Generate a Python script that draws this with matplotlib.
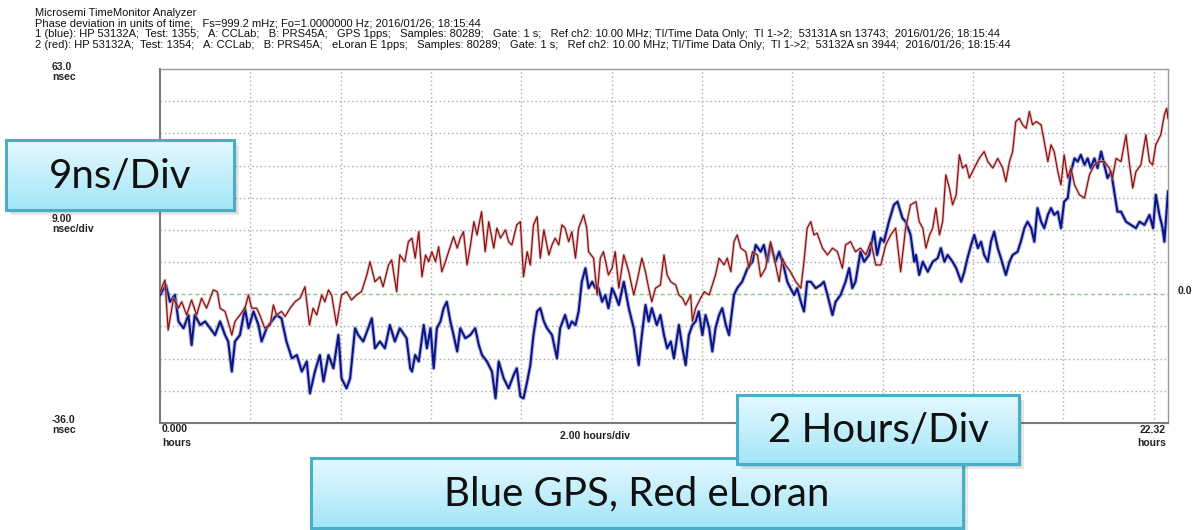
import numpy as np
import matplotlib
matplotlib.use('Agg')
import matplotlib.pyplot as plt
from matplotlib.patches import Rectangle

# ---------------- data ----------------
header_lines = [
    "Microsemi TimeMonitor Analyzer",
    "Phase deviation in units of time;   Fs=999.2 mHz; Fo=1.0000000 Hz; 2016/01/26; 18:15:44",
    "1 (blue): HP 53132A;  Test: 1355;   A: CCLab;   B: PRS45A;   GPS 1pps;   Samples: 80289;   Gate: 1 s;   Ref ch2: 10.00 MHz; TI/Time Data Only;  TI 1->2;  53131A sn 13743;  2016/01/26; 18:15:44",
    "2 (red): HP 53132A;  Test: 1354;   A: CCLab;   B: PRS45A;   eLoran E 1pps;   Samples: 80289;   Gate: 1 s;   Ref ch2: 10.00 MHz; TI/Time Data Only;  TI 1->2;  53132A sn 3944;  2016/01/26; 18:15:44",
]

red_t = [0.00, 0.11, 0.18, 0.30, 0.41, 0.48, 0.59, 0.70, 0.81, 0.92, 1.03, 1.18, 1.27, 1.33, 1.44, 1.55, 1.59, 1.66, 1.77, 1.88,
         1.96, 2.03, 2.14, 2.21, 2.32, 2.44, 2.51, 2.58, 2.69, 2.77, 2.88, 2.99, 3.10, 3.21, 3.31, 3.39, 3.47, 3.58, 3.65, 3.73,
         3.80, 3.91, 4.02, 4.13, 4.24, 4.35, 4.46, 4.58, 4.65, 4.76, 4.87, 4.94, 5.06, 5.13, 5.24, 5.31, 5.42, 5.50, 5.58,
         5.65, 5.73, 5.80, 5.88, 5.95, 6.02, 6.10, 6.17, 6.24, 6.32, 6.39, 6.50, 6.58, 6.65, 6.72, 6.80, 6.87, 6.95, 7.02, 7.12,
         7.20, 7.28, 7.39, 7.46, 7.54, 7.65, 7.72, 7.79, 7.90, 7.98, 8.05, 8.13, 8.20, 8.27, 8.35, 8.42, 8.50, 8.61, 8.68, 8.75,
         8.83, 8.90, 8.97, 9.05, 9.12, 9.20, 9.27, 9.38, 9.45, 9.49, 9.60, 9.68, 9.75, 9.82, 9.93, 10.01, 10.08, 10.16, 10.27,
         10.38, 10.49, 10.56, 10.67, 10.75, 10.82, 10.89, 10.97, 11.08, 11.16,
         11.23, 11.31, 11.42, 11.49, 11.57, 11.64, 11.75, 11.79, 11.86, 11.97, 12.05, 12.16, 12.23, 12.30, 12.38, 12.49, 12.56,
         12.64, 12.71, 12.78, 12.86, 12.97, 13.04, 13.12, 13.23, 13.30, 13.41, 13.52, 13.60, 13.71, 13.78, 13.85, 13.96, 14.08,
         14.19, 14.26, 14.33, 14.41, 14.48, 14.55, 14.67, 14.78, 14.89, 15.00, 15.11, 15.18, 15.29, 15.40, 15.51, 15.63, 15.74,
         15.85, 15.96, 16.07, 16.18, 16.29, 16.40, 16.51, 16.62, 16.74,
         16.81, 16.89, 16.96, 17.04, 17.11, 17.18, 17.26, 17.33, 17.40, 17.48, 17.55, 17.63, 17.70, 17.77, 17.85, 17.92, 18.03,
         18.14, 18.25, 18.33, 18.44, 18.55, 18.66, 18.73, 18.81, 18.88, 18.95, 19.03, 19.10, 19.18, 19.25, 19.32, 19.40, 19.51,
         19.58, 19.66, 19.73, 19.80, 19.88, 19.95, 20.02, 20.10, 20.17, 20.25, 20.36, 20.47, 20.58, 20.69, 20.80, 20.91, 21.02,
         21.09, 21.17, 21.28, 21.39, 21.46, 21.54, 21.61, 21.72, 21.83, 21.91, 21.98, 22.05, 22.16, 22.24, 22.29, 22.32]
red_ns = [0.7, 4.0, -10.0, -1.1, -3.9, -2.1, -5.8, -1.6, -5.8, -1.1, -3.9, 1.2, 0.7, -3.9, -4.8, -9.5, -11.4, -7.6, -5.8, -3.9,
          -0.2, -3.9, -3.9, -5.8, -9.5, -8.6, -3.0, -5.8, -4.8, -6.2, -3.9, -2.1, -1.1, 2.1, -8.6, -3.9, -5.8, -0.2, -2.1, 1.2,
          -0.2, -8.6, -0.2, 0.7, -1.6, -0.2, 0.7, 5.4, 9.1, 3.5, 4.9, 2.1, 8.2, 9.6, 0.7, 11.0, 9.1, 14.7, 15.7,
          10.1, 17.5, 4.9, 11.0, 9.1, 11.9, 9.1, 13.3, 6.3, 9.1, 11.9, 16.1, 12.9, 15.7, 17.5, 8.2, 13.3, 20.3, 16.6, 23.1,
          11.9, 20.3, 12.9, 18.5, 15.7, 18.0, 14.7, 13.8, 19.4, 20.3, 4.9, 11.9, 8.2, 19.4, 21.7, 10.1, 18.0, 11.0, 13.8, 15.7,
          13.8, 19.4, 18.5, 14.7, 17.5, 10.1, 18.5, 22.2, 18.5, 11.9, 10.1, -0.2, 10.1, 11.9, 5.4, 7.3, 11.9, 1.7, 11.0,
          6.3, -0.2, 3.5, 10.1, 6.3, 1.7, -2.1, 1.7, 2.6, 11.0,
          5.4, 3.5, 2.6, -0.2, -1.1, -3.0, -0.2, -7.6, -3.9, -1.1, 0.7, -0.2, 2.6, 5.4, 10.1, 8.2, 10.1,
          6.3, 14.7, 16.6, 12.9, 11.9, 7.3, 11.9, 11.0, 4.9, 7.3, 14.7, 10.1, 3.5, 10.1, 8.2, 6.3, 3.5,
          1.7, 9.1, 18.5, 20.3, 16.6, 17.1, 12.9, 11.0, 12.9, 11.9, 7.3, 13.8, 14.7, 11.9, 12.9, 11.0, 14.7,
          8.2, 8.2, 13.8, 16.6, 18.5, 6.3, 18.5, 25.0, 25.9,
          20.3, 18.5, 12.9, 16.6, 18.5, 24.1, 16.6, 20.3, 33.4, 29.7, 25.0, 27.8, 39.0, 35.3, 36.2, 32.5, 35.3,
          38.0, 39.9, 37.1, 35.3, 38.0, 35.3, 31.5, 37.1, 39.9, 48.3, 49.2, 47.4, 46.4, 51.1, 47.4, 48.3, 47.4,
          42.7, 37.1, 41.8, 39.9, 34.3, 30.6, 39.0, 32.5, 35.3, 30.6, 27.8, 26.9, 33.4, 36.2, 37.1, 37.1, 35.3,
          32.5, 38.0, 37.1, 44.6, 37.1, 29.7, 34.3, 36.2, 44.6, 37.1, 36.2, 41.8, 44.6, 50.2, 52.0, 49.2]

blue_t = [0.00, 0.13, 0.22, 0.33, 0.41, 0.52, 0.63, 0.70, 0.77, 0.89, 1.00, 1.11, 1.22, 1.33, 1.44, 1.51, 1.59, 1.66, 1.77,
          1.88, 1.96, 2.07, 2.18, 2.25, 2.36, 2.47, 2.58, 2.69, 2.80, 2.92, 3.03, 3.14, 3.25, 3.32, 3.43, 3.54, 3.62, 3.73,
          3.84, 3.95, 4.02, 4.13, 4.21, 4.32, 4.39, 4.50, 4.61, 4.69, 4.76, 4.87, 4.98, 5.09, 5.20, 5.31, 5.46, 5.54,
          5.58, 5.65, 5.73, 5.84, 5.91, 5.99, 6.06, 6.13, 6.21, 6.28, 6.35, 6.43, 6.50, 6.58, 6.65, 6.76, 6.87, 6.98, 7.06,
          7.13, 7.24, 7.35, 7.43, 7.50, 7.61, 7.72, 7.83, 7.90, 7.98, 8.05, 8.13, 8.20, 8.27, 8.35, 8.42, 8.50, 8.57, 8.68,
          8.79, 8.86, 8.97, 9.05, 9.12, 9.20, 9.27, 9.34, 9.42, 9.49, 9.57, 9.64, 9.71, 9.79, 9.86, 9.93, 10.01, 10.08,
          10.16, 10.27, 10.38, 10.49, 10.60, 10.67, 10.75, 10.82, 10.89, 11.00, 11.08, 11.16,
          11.23, 11.31, 11.38, 11.49, 11.57, 11.64, 11.71, 11.79, 11.86, 11.93, 12.01, 12.08, 12.16, 12.23, 12.30, 12.38,
          12.45, 12.53, 12.60, 12.71, 12.78, 12.89, 13.01, 13.12, 13.19, 13.30, 13.37, 13.45, 13.52, 13.63, 13.71, 13.82,
          13.89, 13.96, 14.04, 14.11, 14.19, 14.26, 14.33, 14.41, 14.52, 14.63, 14.70, 14.78, 14.89, 14.96, 15.07, 15.18,
          15.26, 15.33, 15.40, 15.51, 15.59, 15.70, 15.81, 15.88, 15.96, 16.03, 16.14, 16.25, 16.33, 16.44, 16.51, 16.62,
          16.70, 16.74,
          16.81, 16.89, 17.00, 17.11, 17.22, 17.29, 17.37, 17.44, 17.55, 17.63, 17.74, 17.81, 17.88, 17.96, 18.03, 18.11,
          18.18, 18.25, 18.33, 18.40, 18.47, 18.55, 18.62, 18.73, 18.81, 18.88, 18.99, 19.06, 19.14, 19.21, 19.29, 19.36,
          19.43, 19.51, 19.58, 19.66, 19.73, 19.80, 19.88, 19.95, 20.02, 20.10, 20.17, 20.25, 20.32, 20.39, 20.47, 20.54,
          20.61, 20.69, 20.76, 20.84, 20.91, 20.98, 21.06, 21.13, 21.20, 21.28, 21.39, 21.50, 21.61, 21.69, 21.80, 21.91,
          21.99, 22.05, 22.13, 22.20, 22.24, 22.32]
blue_ns = [-0.2, 2.6, -2.1, -0.2, -7.6, -9.5, -5.8, -14.2, -5.8, -8.6, -7.6, -9.5, -11.4, -7.6, -11.4, -13.2, -21.6, -13.2, -11.4,
           -3.9, -9.5, -4.8, -8.6, -13.2, -9.5, -7.6, -5.8, -6.7, -13.2, -17.9, -17.0, -21.6, -18.8, -27.7, -21.6, -17.0, -24.4, -17.0,
           -20.7, -11.4, -23.5, -26.3, -23.5, -9.5, -11.4, -13.2, -9.5, -6.7, -15.1, -13.2, -15.1, -8.6, -13.2, -9.5, -12.3, -20.7,
           -21.6, -17.0, -18.8, -8.6, -15.1, -9.5, -20.7, -9.5, -7.6, -3.9, -2.1, -7.6, -11.4, -16.0, -9.5, -12.3, -11.4, -9.5, -14.2,
           -17.0, -18.8, -21.6, -29.1, -18.8, -23.5, -26.3, -22.6, -20.7, -28.6, -29.1, -24.4, -19.8, -11.4, -4.8, -3.9, -7.6, -9.5, -11.4,
           -17.9, -9.5, -5.8, -9.5, -7.6, -8.6, -4.8, 3.5, 7.3, 1.7, 3.5, 1.7, 1.7, -2.1, -0.2, -3.9, 1.7, -0.2,
           -3.0, 3.5, -3.9, -9.5, -19.8, -11.4, -3.0, -7.6, -3.9, -8.6, -5.8, -11.4,
           -15.1, -13.2, -17.9, -8.6, -15.1, -19.8, -11.4, -8.6, -7.6, -4.8, -11.4, -5.8, -9.5, -16.0, -9.5, -5.8,
           -3.9, -8.6, -11.4, -0.2, 1.7, 3.5, 7.3, 9.1, 13.8, 11.9, 13.8, 9.1, 13.8, 9.1, 11.9, 7.3,
           3.5, 1.7, -0.2, 1.7, -2.1, -4.8, 3.5, 3.5, 1.7, 2.6, 3.5, -0.2, -5.8, -2.1, -0.2, 3.5,
           7.3, 1.7, 3.5, 11.9, 9.1, 11.0, 17.5, 11.0, 15.7, 14.7, 20.3, 25.0, 25.9, 21.3, 20.3, 16.6,
           9.1, 11.0,
           5.4, 9.1, 6.3, 9.1, 10.1, 12.9, 9.1, 11.0, 9.1, 7.3, 3.5, 6.3, 10.1, 13.8, 16.6, 12.9,
           14.7, 11.0, 9.1, 14.7, 17.5, 12.9, 10.1, 5.4, 9.1, 11.0, 11.9, 14.7, 18.5, 20.3, 18.5, 14.7,
           24.1, 20.3, 18.5, 22.2, 24.1, 22.2, 23.1, 18.5, 25.9, 26.9, 34.3, 38.0, 37.1, 39.0, 36.2, 38.0,
           35.3, 38.0, 35.3, 39.9, 36.2, 32.5, 34.3, 28.7, 23.1, 23.1, 20.3, 19.4, 18.5, 20.3, 19.4, 22.2,
           18.5, 27.8, 22.2, 18.5, 14.7, 28.7]

y_min, y_max, y_div = -36.0, 63.0, 9.0
x_max, x_div = 22.32, 2.0

# ---------------- figure ----------------
W, H = 1197, 530
fig = plt.figure(figsize=(W / 100, H / 100), dpi=100)
fig.patch.set_facecolor('white')

ax = fig.add_axes([160 / W, 1 - 423 / H, 1008 / W, 354 / H])
ax.set_xlim(0, x_max)
ax.set_ylim(y_min, y_max)
ax.set_xticks([])
ax.set_yticks([])
for v in np.arange(y_min + y_div, y_max - 1e-6, y_div):
    if abs(v) < 1e-6:
        ax.axhline(0, color='#8cc98c', lw=1.0, ls=(0, (3, 2)), zorder=1)
    else:
        ax.axhline(v, color='#a9a9a9', lw=1.0, ls=(0, (1, 2)), zorder=1)
for h in np.arange(x_div, x_max, x_div):
    ax.axvline(h, color='#a9a9a9', lw=1.0, ls=(0, (1, 2)), zorder=1)
for s in ['left', 'bottom']:
    ax.spines[s].set_color('#7a7a7a')
    ax.spines[s].set_linewidth(1.5)
for s in ['top', 'right']:
    ax.spines[s].set_color('#9a9a9a')
    ax.spines[s].set_linewidth(1.0)

ax.plot(blue_t, blue_ns, color='#6a70bc', lw=3.0, alpha=0.45, zorder=2, solid_joinstyle='round')
ax.plot(blue_t, blue_ns, color='#0b1585', lw=1.5, zorder=3)
ax.plot(red_t, red_ns, color='#d6a0a0', lw=2.2, alpha=0.6, zorder=4)
ax.plot(red_t, red_ns, color='#8b1010', lw=0.9, zorder=5)

# ---------------- overlay (text & callouts) ----------------
ov = fig.add_axes([0, 0, 1, 1], zorder=10)
ov.patch.set_alpha(0)
ov.axis('off')

hdr_font = ['Liberation Sans', 'DejaVu Sans']
for i, line in enumerate(header_lines):
    ov.text(35, 13 + i * 10.7, line, fontsize=8, family=hdr_font, va='center', ha='left', color='#111111')

lab = dict(fontsize=7.5, family=hdr_font, fontweight='bold', color='#222222', va='center')
ov.text(52, 67, "63.0", ha='left', **lab)
ov.text(52, 77, "nsec", ha='left', **lab)
ov.text(52, 219, "9.00", ha='left', **lab)
ov.text(52, 229, "nsec/div", ha='left', **lab)
ov.text(52, 420, "-36.0", ha='left', **lab)
ov.text(52, 430, "nsec", ha='left', **lab)
ov.text(162, 429, "0.000", ha='left', **lab)
ov.text(162, 443, "hours", ha='left', **lab)
ov.text(595, 436, "2.00 hours/div", ha='center', **lab)
ov.text(1166, 430, "22.32", ha='right', **lab)
ov.text(1166, 443, "hours", ha='right', **lab)
ov.text(1178, 291, "0.0", ha='left', **lab)

top_c = np.array([0.90, 0.975, 0.995])
bot_c = np.array([0.64, 0.90, 0.975])
grad = np.linspace(0, 1, 64)[:, None]
grad_img = (top_c[None, :] * (1 - grad) + bot_c[None, :] * grad)[:, None, :]


def callout(x0, y0, x1, y1, text, fs, z):
    for k, a in enumerate([0.10, 0.10, 0.12]):
        d = 1.5 + k * 1.5
        ov.add_patch(Rectangle((x0 + d, y0 + d), x1 - x0, y1 - y0, fc='#404040', ec='none',
                               alpha=a, zorder=z))
    ov.imshow(grad_img, extent=(x0, x1, y1, y0), aspect='auto', zorder=z + 0.1,
              interpolation='bilinear')
    ov.add_patch(Rectangle((x0, y0), x1 - x0, y1 - y0, fill=False, ec='#4aaec8', lw=2.2,
                           zorder=z + 0.2))
    ov.text((x0 + x1) / 2, (y0 + y1) / 2 + 1, text, ha='center', va='center', fontsize=fs,
            family=['Lato', 'DejaVu Sans'], color='#111111', zorder=z + 0.3)


callout(6, 140, 234, 210, "9ns/Div", 29, 20)
callout(311, 458, 963, 528, "Blue GPS, Red eLoran", 29, 30)
callout(737, 395, 1019, 464, "2 Hours/Div", 29, 40)

ov.set_xlim(0, W)
ov.set_ylim(H, 0)

fig.savefig('out.png', dpi=100)
